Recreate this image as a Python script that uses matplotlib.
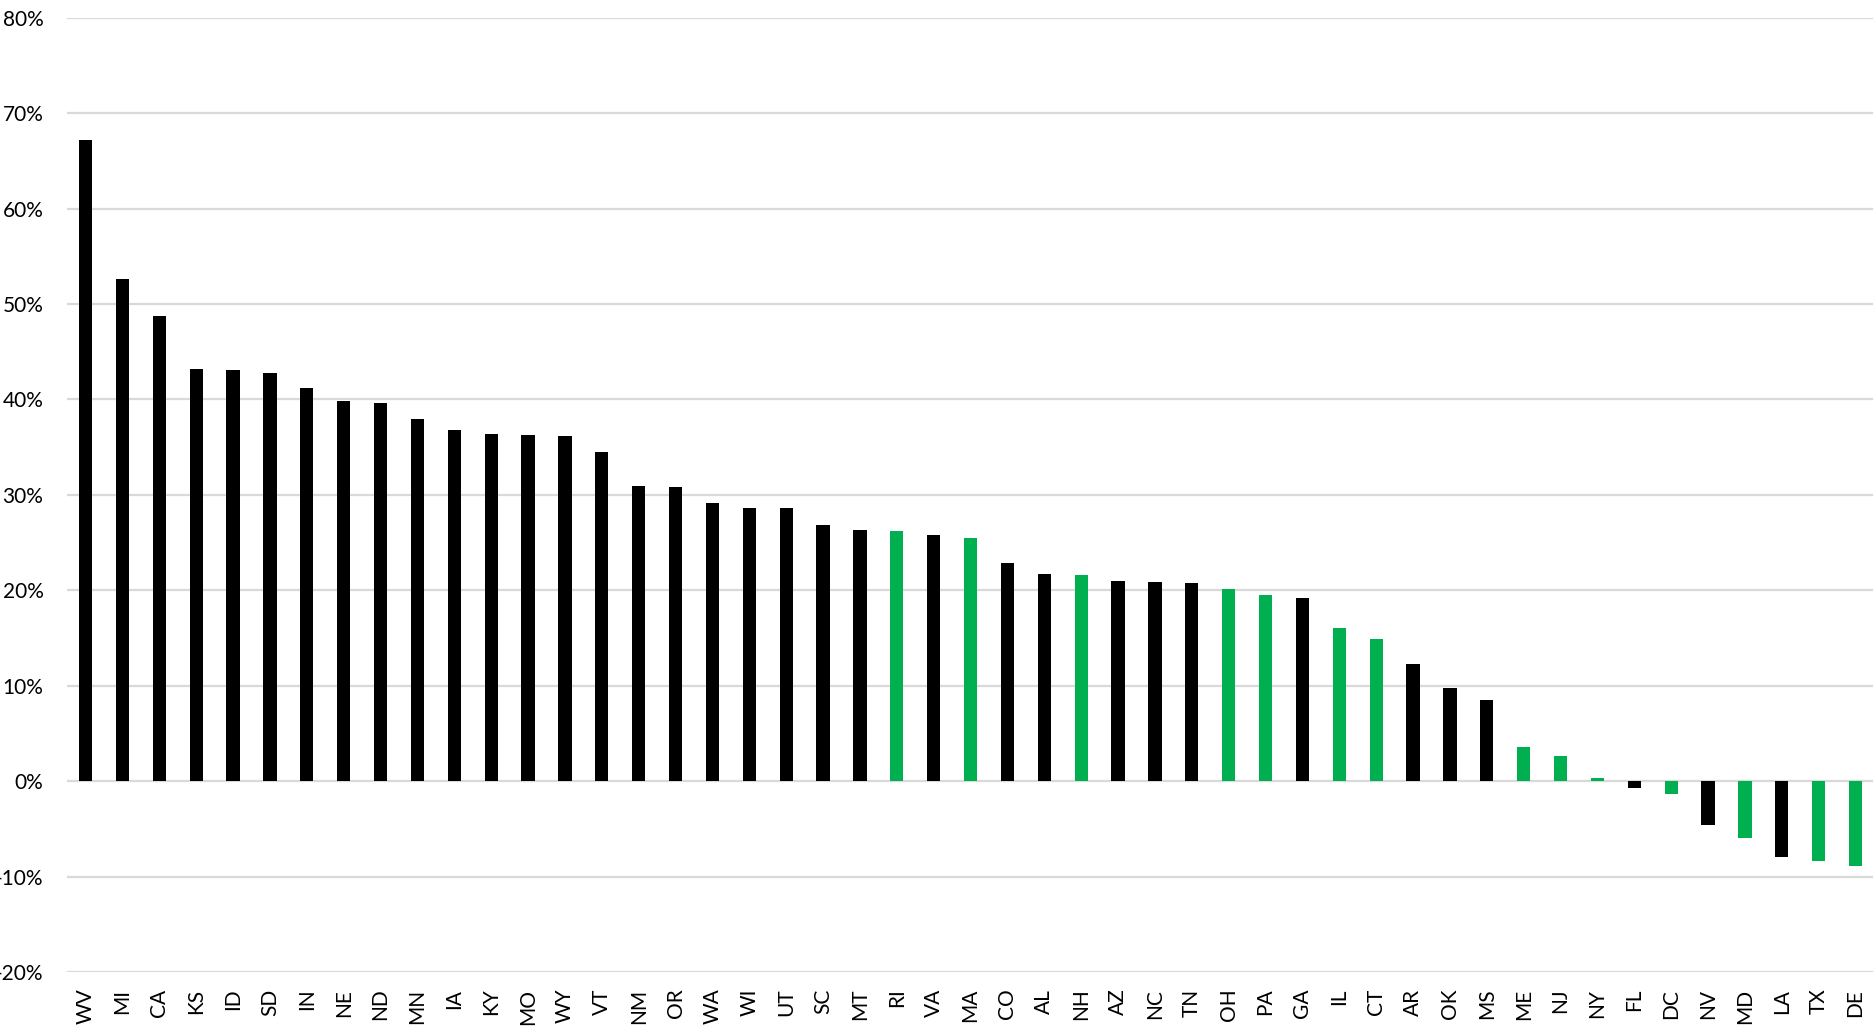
import numpy as np
import matplotlib
matplotlib.use("Agg")
import matplotlib.pyplot as plt
from matplotlib.ticker import FuncFormatter

# Estados e variação percentual
states = ["WV", "MI", "CA", "KS", "ID", "SD", "IN", "NE", "ND", "MN", "IA", "KY", "MO",
          "WY", "VT", "NM", "OR", "WA", "WI", "UT", "SC", "MT", "RI", "VA", "MA", "CO",
          "AL", "NH", "AZ", "NC", "TN", "OH", "PA", "GA", "IL", "CT", "AR", "OK", "MS",
          "ME", "NJ", "NY", "FL", "DC", "NV", "MD", "LA", "TX", "DE"]
values = [67.2, 52.6, 48.7, 43.2, 43.1, 42.8, 41.2, 39.8, 39.6, 37.9, 36.8, 36.4, 36.3,
          36.2, 34.5, 30.9, 30.8, 29.2, 28.65, 28.6, 26.8, 26.3, 26.2, 25.8, 25.5, 22.9,
          21.7, 21.6, 21.0, 20.9, 20.8, 20.1, 19.5, 19.2, 16.1, 14.9, 12.3, 9.8, 8.5,
          3.6, 2.6, 0.3, -0.7, -1.3, -4.6, -6.0, -7.9, -8.4, -8.9]
# Estados destacados em verde
highlighted = ["RI", "MA", "NH", "OH", "PA", "IL", "CT", "ME", "NJ", "NY", "DC", "MD", "TX", "DE"]

BLACK = "#000000"
GREEN = "#00B050"
GRID = "#D9D9D9"

plt.rcParams['font.family'] = ['Lato', 'DejaVu Sans']

fig = plt.figure(figsize=(18.74, 10.31), dpi=100)
ax = fig.add_axes([0.0358, 0.0572, 0.9642, 0.9256])

x = np.arange(len(states))
colors = [GREEN if s in highlighted else BLACK for s in states]
ax.bar(x, values, width=0.36, color=colors, zorder=3)

ax.set_ylim(-20, 80)
ax.set_xlim(-0.5, len(states) - 0.5)
ax.set_yticks(np.arange(-20, 81, 10))
ax.yaxis.set_major_formatter(FuncFormatter(lambda v, p: f"{v:.0f}%"))
ax.grid(axis='y', color=GRID, linewidth=1.6, zorder=0)
ax.set_axisbelow(True)

ax.set_xticks(x)
ax.set_xticklabels(states, rotation=90, fontsize=15)
ax.tick_params(axis='y', labelsize=15, length=0, pad=17)
ax.tick_params(axis='x', length=0, pad=12)
for side in ["top", "right", "bottom", "left"]:
    ax.spines[side].set_visible(False)

fig.savefig("out.png", dpi=100)
